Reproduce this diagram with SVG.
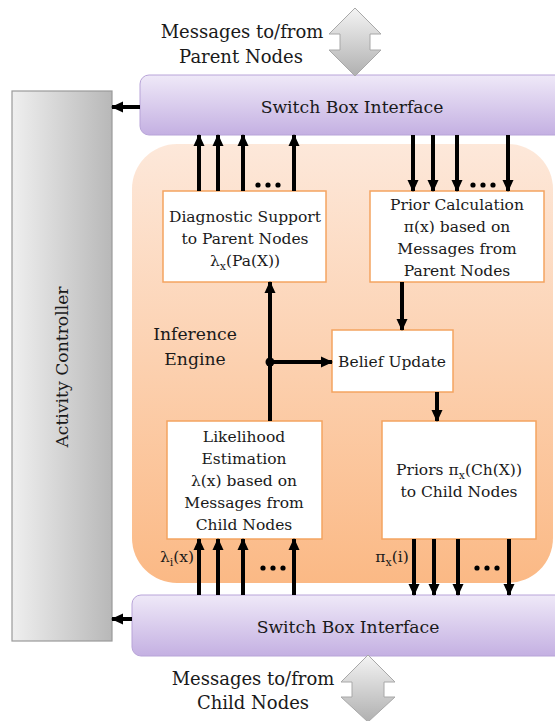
<svg xmlns="http://www.w3.org/2000/svg" width="555" height="721" viewBox="0 0 555 721">
<defs>
<linearGradient id="gLav" x1="0" y1="0" x2="0" y2="1"><stop offset="0" stop-color="#efe9f8"/><stop offset="1" stop-color="#c4b0e2"/></linearGradient>
<linearGradient id="gOr" x1="0" y1="0" x2="0" y2="1"><stop offset="0" stop-color="#fde8da"/><stop offset="1" stop-color="#fbb985"/></linearGradient>
<linearGradient id="gGray" x1="0" y1="0" x2="1" y2="0"><stop offset="0" stop-color="#efefef"/><stop offset="1" stop-color="#b8b8b8"/></linearGradient>
<linearGradient id="gArr" x1="0" y1="0" x2="0" y2="1"><stop offset="0" stop-color="#f4f4f4"/><stop offset="1" stop-color="#b0b0b0"/></linearGradient>
<marker id="ah" markerUnits="userSpaceOnUse" markerWidth="12" markerHeight="12" viewBox="0 0 12 12" refX="11" refY="6" orient="auto"><path d="M0,0.5 L12,6 L0,11.5 Z" fill="#000"/></marker>
<style>
text{font-family:"DejaVu Serif","Liberation Serif",serif;fill:#1a1a1a;font-size:15.5px;text-anchor:middle}
.box{fill:#fff;stroke:#f4a460;stroke-width:1.5}
.sw{fill:url(#gLav);stroke:#b8a4d8;stroke-width:1}
.c{stroke:#000;stroke-width:4;fill:none;marker-end:url(#ah)}
.dot{fill:#000}
.sub{font-size:11px}
.h{font-size:17.2px}
.m{font-size:18px}
</style>
</defs>

<g id="activity-controller">
<rect x="12" y="91" width="100" height="550" fill="url(#gGray)" stroke="#9a9a9a" stroke-width="1.2"/>
<text class="h" transform="translate(68,367) rotate(-90)">Activity Controller</text>
</g>

<g id="inference-engine">
<rect x="132" y="144" width="421" height="439" rx="45" ry="45" fill="url(#gOr)"/>
<text class="h" x="195" y="340">Inference</text>
<text class="h" x="195" y="365">Engine</text>
</g>

<g id="switch-top">
<rect class="sw" x="140" y="75" width="430" height="60" rx="9"/>
<text class="h" x="352" y="113">Switch Box Interface</text>
</g>

<g id="switch-bottom">
<rect class="sw" x="132" y="595" width="440" height="61" rx="9"/>
<text class="h" x="348" y="633">Switch Box Interface</text>
</g>

<g id="parent-messages">
<path d="M355,8 L381,34 L370,34 L370,50 L381,50 L355,76 L329,50 L340,50 L340,34 L329,34 Z" fill="url(#gArr)" stroke="#a8a8a8" stroke-width="1"/>
<text class="m" x="242" y="38">Messages to/from</text>
<text class="m" x="241" y="63">Parent Nodes</text>
</g>

<g id="child-messages">
<path d="M368,655 L395,682 L384,682 L384,697 L395,697 L368,722 L341,697 L352,697 L352,682 L341,682 Z" fill="url(#gArr)" stroke="#a8a8a8" stroke-width="1"/>
<text class="m" x="253" y="685">Messages to/from</text>
<text class="m" x="253" y="709">Child Nodes</text>
</g>

<g id="diagnostic-support">
<rect class="box" x="163" y="191" width="163" height="91"/>
<text x="245" y="222">Diagnostic Support</text>
<text x="245" y="244">to Parent Nodes</text>
<text x="245" y="266">λ<tspan class="sub" dy="4">x</tspan><tspan dy="-4">(Pa(X))</tspan></text>
</g>

<g id="prior-calculation">
<rect class="box" x="370" y="191" width="174" height="91"/>
<text x="457" y="210">Prior Calculation</text>
<text x="457" y="232">π(x) based on</text>
<text x="457" y="254">Messages from</text>
<text x="457" y="276">Parent Nodes</text>
</g>

<g id="belief-update">
<rect class="box" x="332" y="330" width="121" height="62"/>
<text x="392" y="367" font-size="14.5">Belief Update</text>
</g>

<g id="likelihood-estimation">
<rect class="box" x="167" y="421" width="155" height="118"/>
<text x="244" y="442">Likelihood</text>
<text x="244" y="464">Estimation</text>
<text x="244" y="486">λ(x) based on</text>
<text x="244" y="508">Messages from</text>
<text x="244" y="530">Child Nodes</text>
</g>

<g id="priors-child">
<rect class="box" x="382" y="421" width="154" height="118"/>
<text x="459" y="475">Priors π<tspan class="sub" dy="4">x</tspan><tspan dy="-4">(Ch(X))</tspan></text>
<text x="459" y="497">to Child Nodes</text>
</g>

<g id="connectors">
<line class="c" x1="140" y1="107" x2="112" y2="107"/>
<line class="c" x1="132" y1="619" x2="112" y2="619"/>
<line class="c" x1="199" y1="191" x2="199" y2="135"/>
<line class="c" x1="218" y1="191" x2="218" y2="135"/>
<line class="c" x1="243" y1="191" x2="243" y2="135"/>
<line class="c" x1="294" y1="191" x2="294" y2="135"/>
<line class="c" x1="413" y1="135" x2="413" y2="191"/>
<line class="c" x1="433" y1="135" x2="433" y2="191"/>
<line class="c" x1="457" y1="135" x2="457" y2="191"/>
<line class="c" x1="508" y1="135" x2="508" y2="191"/>
<line class="c" x1="270" y1="421" x2="270" y2="282"/>
<line class="c" x1="270" y1="362" x2="332" y2="362"/>
<circle class="dot" cx="270" cy="362" r="4.5"/>
<line class="c" x1="402" y1="282" x2="402" y2="330"/>
<line class="c" x1="437" y1="392" x2="437" y2="421"/>
<line class="c" x1="199" y1="595" x2="199" y2="539"/>
<line class="c" x1="218" y1="595" x2="218" y2="539"/>
<line class="c" x1="243" y1="595" x2="243" y2="539"/>
<line class="c" x1="294" y1="595" x2="294" y2="539"/>
<line class="c" x1="414" y1="539" x2="414" y2="595"/>
<line class="c" x1="434" y1="539" x2="434" y2="595"/>
<line class="c" x1="458" y1="539" x2="458" y2="595"/>
<line class="c" x1="509" y1="539" x2="509" y2="595"/>
<circle class="dot" cx="258" cy="185" r="2.6"/><circle class="dot" cx="268" cy="185" r="2.6"/><circle class="dot" cx="278" cy="185" r="2.6"/>
<circle class="dot" cx="473" cy="185" r="2.6"/><circle class="dot" cx="483" cy="185" r="2.6"/><circle class="dot" cx="493" cy="185" r="2.6"/>
<circle class="dot" cx="263" cy="568" r="2.6"/><circle class="dot" cx="273" cy="568" r="2.6"/><circle class="dot" cx="283" cy="568" r="2.6"/>
<circle class="dot" cx="477" cy="568" r="2.6"/><circle class="dot" cx="487" cy="568" r="2.6"/><circle class="dot" cx="497" cy="568" r="2.6"/>
<text x="177" y="562" font-size="15">λ<tspan class="sub" dy="4">i</tspan><tspan dy="-4">(x)</tspan></text>
<text x="392" y="562" font-size="15">π<tspan class="sub" dy="4">x</tspan><tspan dy="-4">(i)</tspan></text>
</g>
</svg>
